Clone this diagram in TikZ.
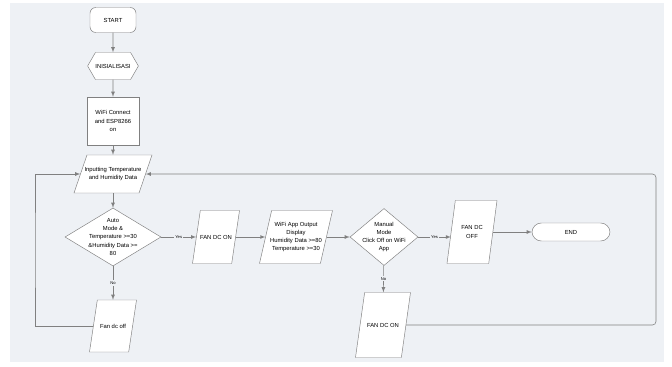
\documentclass[tikz,border=0pt]{standalone}
\usepackage{fontspec}
\setmainfont{Liberation Sans}
\usetikzlibrary{arrows}
\usetikzlibrary{shapes.geometric,shapes.symbols}
\definecolor{canvas}{HTML}{EEF1F5}
\definecolor{edge}{HTML}{808080}
\def\px{0.03cm}
\tikzset{txt/.style={align=center,font=\fontsize{5}{7}\selectfont}}
\tikzset{flow/.style={draw=edge,line width=0.5pt,->,>=latex}}
\tikzset{terminal/.style={txt,draw=edge,fill=white,rounded corners=5pt,inner sep=0pt}}
\tikzset{prep/.style={txt,signal,signal to=east and west,signal pointer angle=120,draw=edge,fill=white,inner sep=0pt}}
\tikzset{process/.style={txt,rectangle,draw=edge,fill=white,inner sep=0pt}}
\tikzset{io/.style={trapezium,trapezium stretches=true,trapezium left angle=76,trapezium right angle=104,draw=edge,fill=white,inner sep=1pt}}
\tikzset{decision/.style={diamond,draw=edge,fill=white,inner sep=1pt}}
\tikzset{lbl/.style={font=\fontsize{3.5}{4}\selectfont,fill=canvas,inner sep=1pt}}

\begin{document}
\begin{tikzpicture}[x=\px,y=-\px]
\useasboundingbox (0,0) rectangle (672,367);
\fill[canvas] (10,3) rectangle (664,362);

% start and setup
\node[terminal,minimum width=46*\px,minimum height=25*\px] (start) at (113,20) {START};
\node[prep,minimum width=46*\px,minimum height=27*\px] (init) at (113,66) {INISIALISASI};
\node[process,minimum width=52*\px,minimum height=48*\px] (wifi) at (113,121) {WiFi Connect\\and ESP8266\\on};
\node[io,minimum width=78*\px,minimum height=38*\px,label={[txt]center:Inputting Temperature\\and Humidity Data}] (input) at (113,174) {};

% auto mode branch
\node[decision,minimum width=96*\px,minimum height=58*\px,label={[txt]center:Auto\\Mode \&\\Temperature >=30\\\&Humidity Data >=\\80}] (auto) at (113,237) {};
\node[io,minimum width=47*\px,minimum height=53*\px,label={[txt]center:FAN DC ON}] (fanon) at (216,237) {};
\node[io,minimum width=73*\px,minimum height=53*\px,label={[txt]center:WiFi App Output\\Display\\Humidity Data >=80\\Temperature >=30}] (app) at (296,237) {};
\node[io,minimum width=47*\px,minimum height=52*\px,label={[txt]center:Fan dc off}] (fanoff) at (113,326) {};

% manual mode branch
\node[decision,minimum width=68*\px,minimum height=57*\px,label={[txt]center:Manual\\Mode\\Click Off on WiFi\\App}] (manual) at (384,237) {};
\node[io,minimum width=50*\px,minimum height=63*\px,label={[txt]center:FAN DC\\OFF}] (fanstop) at (472,232) {};
\node[terminal,minimum width=78*\px,minimum height=18*\px,rounded corners=8pt] (end) at (571,232) {END};
\node[io,minimum width=55*\px,minimum height=65*\px,label={[txt]center:FAN DC ON}] (fanrun) at (383,325) {};

% loop corners
\coordinate (loopL) at (35,250);
\coordinate (loopR) at (656,250);

% connectors
\draw[flow] (start) -- (init);
\draw[flow] (init) -- (wifi);
\draw[flow] (wifi) -- (input);
\draw[flow] (input) -- (auto);
\draw[flow] (auto) -- node[lbl] {Yes} (fanon);
\draw[flow] (auto) -- node[lbl] {No} (fanoff);
\draw[flow] (fanon) -- (app);
\draw[flow] (app) -- (manual);
\draw[flow] (manual.east) -- node[lbl] {Yes} (manual.east -| fanstop.west);
\draw[flow] (fanstop.east |- end.west) -- (end);
\draw[flow] (manual) -- node[lbl] {No} (fanrun);
\draw[flow] (fanoff.west) -| (loopL) |- (input.west);
\draw[flow,rounded corners=3pt] (fanrun.east) -| (loopR) |- (input.east);
\end{tikzpicture}
\end{document}
